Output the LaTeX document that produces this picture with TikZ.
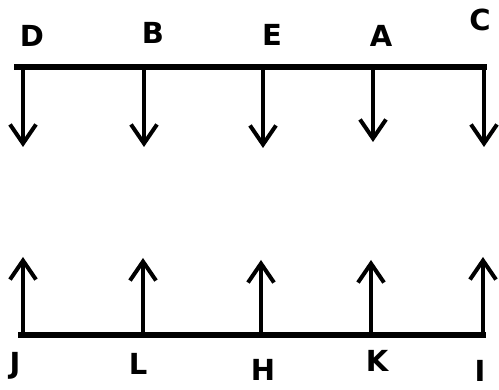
\documentclass[tikz,border=0pt]{standalone}
\usepackage{fontspec}
\setmainfont{DejaVu Sans}
\usetikzlibrary{arrows.meta}
\begin{document}
\begin{tikzpicture}[x=1pt,y=-1pt,
  bar/.style={line width=6pt},
  arr/.style={line width=4pt,-{Straight Barb[length=19pt,width=26pt,line width=4pt]}},
  lab/.style={font=\bfseries\fontsize{29}{29}\selectfont,inner sep=0pt}]
\useasboundingbox (0,0) rectangle (499,390);
% top
\coordinate (tl) at (14,67);
\coordinate (tr) at (487,67);
\draw[bar] (tl) -- (tr);
\foreach \n/\x/\t in {d/23/147,b/144/147,e/263/148,a/373/142,c/484/147}{
  \coordinate (\n0) at (\x,67);
  \coordinate (\n1) at (\x,\t);
  \draw[arr] (\n0) -- (\n1);
}
\node[lab] (D) at (32,36) {D};
\node[lab] (B) at (153,33) {B};
\node[lab] (E) at (272,35) {E};
\node[lab] (A) at (381,36) {A};
\node[lab] (C) at (480,20) {C};
% bottom
\coordinate (bl) at (18,335);
\coordinate (br) at (486,335);
\draw[bar] (bl) -- (br);
\foreach \n/\x/\t in {j/23/257,l/143/258,h/261/260,k/371/260,i/483/257}{
  \coordinate (\n0) at (\x,335);
  \coordinate (\n1) at (\x,\t);
  \draw[arr] (\n0) -- (\n1);
}
\node[lab] (J) at (15,366) {J};
\node[lab] (L) at (138,364) {L};
\node[lab] (H) at (263,370) {H};
\node[lab] (K) at (377,361) {K};
\node[lab] (I) at (480,371) {I};
\end{tikzpicture}
\end{document}
